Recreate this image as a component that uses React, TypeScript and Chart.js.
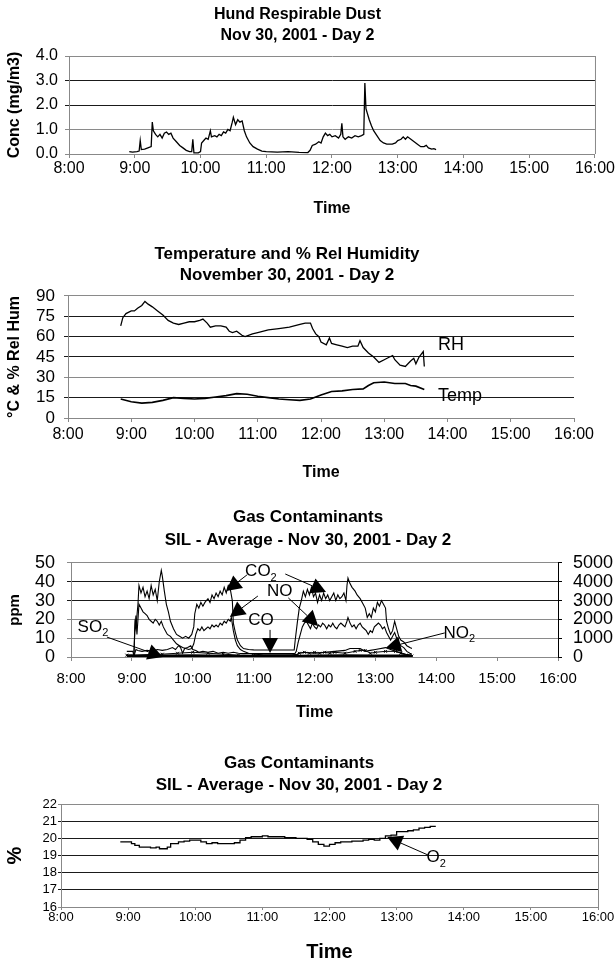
import React, { useEffect, useRef } from 'react';
import { Chart, registerables } from 'chart.js';
Chart.register(...registerables);

const FONT = '"Liberation Sans", Arial, Helvetica, sans-serif';

// ---------- DATA (time "H:MM", value) ----------
const dust: [string, number][] = [
  ['8:55', 0.1], ['8:58', 0.08], ['9:02', 0.1], ['9:04', 0.12], ['9:05', 0.55], ['9:06', 0.18], ['9:09', 0.2], ['9:12', 0.25],
  ['9:15', 0.3], ['9:16', 1.3], ['9:17', 0.95], ['9:19', 0.8], ['9:21', 0.7], ['9:23', 0.8], ['9:25', 0.65], ['9:27', 0.85],
  ['9:29', 0.9], ['9:31', 0.8], ['9:33', 0.85], ['9:35', 0.65], ['9:38', 0.5], ['9:41', 0.35], ['9:44', 0.25], ['9:47', 0.15],
  ['9:50', 0.1], ['9:52', 0.1], ['9:53', 0.6], ['9:54', 0.05], ['9:58', 0.05], ['10:00', 0.1], ['10:01', 0.45], ['10:03', 0.55],
  ['10:05', 0.65], ['10:07', 0.6], ['10:09', 0.95], ['10:10', 0.7], ['10:13', 0.75], ['10:15', 0.7], ['10:17', 0.8], ['10:19', 0.75],
  ['10:21', 0.9], ['10:23', 0.85], ['10:25', 1.0], ['10:27', 0.95], ['10:29', 1.3], ['10:30', 1.5], ['10:32', 1.2], ['10:34', 1.4],
  ['10:36', 1.3], ['10:38', 1.35], ['10:40', 0.95], ['10:42', 0.7], ['10:45', 0.45], ['10:48', 0.3], ['10:52', 0.2], ['10:56', 0.12],
  ['11:00', 0.1], ['11:10', 0.08], ['11:20', 0.1], ['11:30', 0.07], ['11:38', 0.06], ['11:40', 0.15], ['11:42', 0.35], ['11:45', 0.4],
  ['11:48', 0.5], ['11:50', 0.45], ['11:52', 0.7], ['11:54', 0.85], ['11:56', 0.75], ['11:58', 0.8], ['12:00', 0.7], ['12:03', 0.75],
  ['12:06', 0.65], ['12:08', 0.8], ['12:09', 1.25], ['12:10', 0.7], ['12:12', 0.6], ['12:15', 0.7], ['12:18', 0.65], ['12:21', 0.75],
  ['12:24', 0.7], ['12:27', 0.75], ['12:29', 0.8], ['12:30', 2.9], ['12:31', 1.85], ['12:32', 1.7], ['12:34', 1.4], ['12:36', 1.15],
  ['12:38', 0.95], ['12:41', 0.75], ['12:44', 0.55], ['12:47', 0.45], ['12:50', 0.4], ['12:55', 0.4], ['12:58', 0.45], ['13:00', 0.55],
  ['13:03', 0.6], ['13:05', 0.7], ['13:07', 0.6], ['13:09', 0.7], ['13:12', 0.6], ['13:15', 0.5], ['13:18', 0.4], ['13:21', 0.3],
  ['13:24', 0.3], ['13:26', 0.35], ['13:28', 0.25], ['13:31', 0.2], ['13:33', 0.22], ['13:35', 0.18],
];

const relHum: [string, number][] = [
  ['8:50', 68], ['8:52', 74], ['8:55', 77], ['9:00', 79], ['9:03', 79], ['9:06', 81], ['9:10', 83], ['9:13', 86], ['9:16', 84],
  ['9:20', 82], ['9:25', 79], ['9:30', 76], ['9:35', 72], ['9:40', 70], ['9:45', 69], ['9:50', 70], ['9:55', 71], ['10:00', 71],
  ['10:05', 72], ['10:08', 73], ['10:12', 70], ['10:15', 67], ['10:20', 68], ['10:25', 68], ['10:30', 67], ['10:33', 64],
  ['10:36', 63], ['10:40', 64], ['10:45', 61], ['10:48', 60], ['10:55', 62], ['11:00', 63], ['11:10', 65], ['11:20', 66],
  ['11:30', 67], ['11:40', 69], ['11:45', 70], ['11:50', 70], ['11:52', 66], ['11:55', 62], ['11:58', 60], ['12:00', 56],
  ['12:05', 54], ['12:08', 59], ['12:10', 55], ['12:15', 54], ['12:20', 53], ['12:25', 52], ['12:30', 53], ['12:35', 53],
  ['12:37', 57], ['12:40', 52], ['12:45', 48], ['12:50', 45], ['12:55', 41], ['13:00', 43], ['13:05', 45], ['13:08', 46],
  ['13:10', 43], ['13:15', 39], ['13:20', 38], ['13:25', 42], ['13:28', 44], ['13:30', 40], ['13:33', 45], ['13:35', 47],
  ['13:37', 49], ['13:38', 38],
];

const temp: [string, number][] = [
  ['8:50', 14], ['9:00', 12], ['9:10', 11], ['9:20', 11.5], ['9:30', 13], ['9:40', 15], ['9:50', 14.5], ['10:00', 14],
  ['10:10', 14.5], ['10:20', 15.5], ['10:30', 16.5], ['10:40', 18], ['10:50', 17.5], ['11:00', 16], ['11:10', 15], ['11:20', 14],
  ['11:30', 13.5], ['11:40', 13], ['11:50', 14], ['12:00', 17], ['12:10', 19.5], ['12:20', 20], ['12:30', 21], ['12:40', 21.5],
  ['12:45', 24], ['12:50', 26], ['13:00', 26.5], ['13:10', 25.5], ['13:20', 25.5], ['13:25', 24], ['13:30', 23.5], ['13:38', 21],
];

const co2: [string, number][] = [
  ['8:55', 0], ['9:00', 0], ['9:02', 100], ['9:03', 1800], ['9:04', 1500], ['9:05', 2200], ['9:06', 2800], ['9:07', 3800],
  ['9:09', 3400], ['9:11', 3700], ['9:13', 3200], ['9:15', 3500], ['9:17', 3100], ['9:19', 3800], ['9:21', 3300], ['9:23', 3600],
  ['9:25', 3000], ['9:27', 4000], ['9:29', 4600], ['9:30', 4300], ['9:32', 3500], ['9:34', 2800], ['9:36', 2400], ['9:38', 1900],
  ['9:41', 1500], ['9:44', 1200], ['9:47', 1100], ['9:50', 1000], ['9:53', 1100], ['9:56', 1000], ['9:59', 1200], ['10:01', 1600],
  ['10:02', 2300], ['10:04', 2800], ['10:06', 2600], ['10:08', 2900], ['10:10', 2700], ['10:12', 2900], ['10:15', 3100], ['10:17', 2900],
  ['10:19', 3300], ['10:21', 3100], ['10:23', 3400], ['10:25', 3200], ['10:27', 3500], ['10:29', 3300], ['10:31', 3700], ['10:33', 3400],
  ['10:35', 3800], ['10:37', 3600], ['10:39', 3000], ['10:40', 1800], ['10:42', 1300], ['10:44', 900], ['10:47', 600], ['10:50', 450],
  ['10:55', 400], ['11:00', 380], ['11:10', 370], ['11:20', 370], ['11:30', 370], ['11:40', 380], ['11:41', 900], ['11:43', 1800],
  ['11:45', 2600], ['11:47', 3000], ['11:49', 3500], ['11:51', 3200], ['11:53', 3600], ['11:55', 3300], ['11:57', 3700], ['11:59', 3200],
  ['12:01', 3400], ['12:03', 2900], ['12:05', 3300], ['12:07', 3000], ['12:09', 3400], ['12:11', 3100], ['12:13', 3300], ['12:15', 3000],
  ['12:17', 3200], ['12:19', 3400], ['12:21', 3000], ['12:23', 3300], ['12:25', 3100], ['12:27', 3200], ['12:29', 3400], ['12:31', 3000],
  ['12:32', 3800], ['12:33', 4200], ['12:35', 3900], ['12:37', 3700], ['12:40', 3500], ['12:42', 3300], ['12:45', 3100], ['12:48', 2800],
  ['12:50', 2600], ['12:52', 2100], ['12:54', 2300], ['12:56', 2100], ['12:58', 2600], ['13:00', 2400], ['13:02', 2900], ['13:04', 2700],
  ['13:06', 3000], ['13:08', 2800], ['13:10', 2600], ['13:11', 1900], ['13:13', 1500], ['13:15', 1200], ['13:17', 1400], ['13:19', 1900],
  ['13:21', 1500], ['13:23', 1100], ['13:25', 900], ['13:28', 800], ['13:31', 600], ['13:34', 500], ['13:36', 450],
];

const no: [string, number][] = [
  ['9:02', 0.5], ['9:03', 15], ['9:04', 22], ['9:05', 12], ['9:06', 20], ['9:07', 28], ['9:09', 26], ['9:11', 24], ['9:13', 23],
  ['9:15', 22], ['9:17', 20], ['9:19', 19], ['9:21', 18], ['9:23', 20], ['9:25', 19], ['9:27', 17], ['9:29', 19], ['9:31', 16],
  ['9:33', 14], ['9:35', 12], ['9:38', 11], ['9:41', 9], ['9:44', 7], ['9:47', 6], ['9:50', 5], ['9:53', 4.5], ['9:56', 4],
  ['9:59', 4.5], ['10:01', 7], ['10:03', 12], ['10:05', 15], ['10:07', 14], ['10:09', 16], ['10:11', 14], ['10:13', 15], ['10:15', 16],
  ['10:17', 15], ['10:19', 17], ['10:21', 16], ['10:23', 17], ['10:25', 16], ['10:27', 18], ['10:29', 17], ['10:31', 19], ['10:33', 18],
  ['10:35', 20], ['10:37', 19], ['10:38', 21], ['10:40', 14], ['10:42', 9], ['10:44', 6], ['10:47', 4], ['10:50', 3], ['10:55', 2],
  ['11:00', 1.5], ['11:10', 1.2], ['11:20', 1.2], ['11:30', 1.2], ['11:40', 1.2], ['11:42', 3], ['11:44', 8], ['11:46', 12],
  ['11:48', 16], ['11:50', 18], ['11:52', 19], ['11:54', 17], ['11:56', 15], ['11:58', 18], ['12:00', 16], ['12:02', 15], ['12:04', 17],
  ['12:06', 16], ['12:08', 18], ['12:10', 17], ['12:12', 15], ['12:14', 17], ['12:16', 16], ['12:18', 18], ['12:20', 16], ['12:22', 15],
  ['12:24', 17], ['12:26', 18], ['12:28', 17], ['12:30', 16], ['12:32', 19], ['12:33', 21], ['12:35', 18], ['12:37', 16], ['12:39', 17],
  ['12:41', 15], ['12:43', 17], ['12:45', 18], ['12:47', 16], ['12:49', 15], ['12:51', 14], ['12:53', 12], ['12:55', 14], ['12:57', 13],
  ['12:59', 16], ['13:01', 17], ['13:03', 18], ['13:05', 17], ['13:07', 15], ['13:09', 16], ['13:11', 13], ['13:13', 11], ['13:15', 9],
  ['13:17', 11], ['13:19', 13], ['13:21', 10], ['13:23', 8], ['13:25', 6], ['13:28', 5], ['13:31', 3], ['13:34', 2], ['13:36', 1.5],
];

const co: [string, number][] = [
  ['8:55', 3], ['9:01', 3], ['9:02', 0.5], ['9:04', 4], ['9:06', 3.5], ['9:10', 3], ['9:15', 3.5], ['9:20', 3], ['9:25', 4],
  ['9:30', 3.5], ['9:35', 4], ['9:40', 5], ['9:43', 4], ['9:46', 6], ['9:48', 5], ['9:50', 2], ['9:52', 4.5], ['9:55', 5],
  ['9:58', 6], ['10:00', 4], ['10:03', 3.5], ['10:06', 2.5], ['10:10', 3], ['10:15', 2.5], ['10:20', 3], ['10:25', 2],
  ['10:30', 2.5], ['10:35', 2], ['10:40', 2.5], ['10:45', 2], ['10:50', 1.8], ['11:00', 1.8], ['11:20', 1.8], ['11:40', 1.8],
  ['11:42', 1], ['11:45', 2], ['11:50', 2.5], ['12:00', 2], ['12:10', 2.5], ['12:20', 3], ['12:30', 3.5], ['12:35', 4.5],
  ['12:45', 4.5], ['12:50', 3], ['12:55', 3.5], ['13:00', 4], ['13:10', 5], ['13:15', 4], ['13:20', 3], ['13:30', 1.5], ['13:36', 1],
];

const so2: [string, number][] = [
  ['8:55', 0.5], ['9:00', 0.5], ['9:05', 0.3], ['9:30', 0.5], ['10:00', 0.6], ['10:30', 0.4], ['11:00', 0.3], ['11:30', 0.3],
  ['12:00', 0.5], ['12:30', 0.6], ['13:00', 0.5], ['13:30', 0.5], ['13:36', 0.3],
];

const no2: [string, number][] = [
  ['8:55', 1], ['9:30', 1.5], ['9:45', 2], ['10:00', 2.5], ['10:15', 2], ['10:30', 1.5], ['10:45', 1], ['11:00', 0.8], ['11:40', 0.8],
  ['11:45', 2], ['11:50', 2.5], ['11:55', 2], ['12:00', 2.5], ['12:05', 2], ['12:10', 2.5], ['12:15', 2], ['12:20', 2.5], ['12:30', 2],
  ['12:40', 3], ['12:45', 3.5], ['12:50', 3.5], ['12:55', 2], ['13:00', 2.5], ['13:10', 3], ['13:20', 3], ['13:25', 2], ['13:30', 1], ['13:36', 0.5],
];

const o2: [string, number][] = [
  ['8:53', 19.8], ['9:00', 19.8], ['9:03', 19.7], ['9:06', 19.6], ['9:10', 19.5], ['9:15', 19.5], ['9:20', 19.45], ['9:25', 19.5],
  ['9:28', 19.4], ['9:32', 19.4], ['9:35', 19.5], ['9:38', 19.7], ['9:45', 19.8], ['9:50', 19.85], ['9:55', 19.9], ['10:00', 19.9],
  ['10:05', 19.8], ['10:10', 19.7], ['10:15', 19.75], ['10:20', 19.7], ['10:30', 19.7], ['10:35', 19.75], ['10:40', 19.9],
  ['10:45', 20.05], ['10:50', 20.1], ['11:00', 20.15], ['11:05', 20.1], ['11:15', 20.1], ['11:20', 20.05], ['11:30', 20.0],
  ['11:40', 19.95], ['11:45', 19.8], ['11:50', 19.65], ['11:55', 19.55], ['12:00', 19.65], ['12:05', 19.75], ['12:10', 19.8],
  ['12:20', 19.85], ['12:30', 19.9], ['12:35', 19.95], ['12:40', 19.9], ['12:45', 20.0], ['12:50', 20.15], ['12:55', 20.2],
  ['13:00', 20.4], ['13:10', 20.45], ['13:15', 20.5], ['13:20', 20.6], ['13:25', 20.65], ['13:30', 20.7], ['13:35', 20.7],
];

// annotation labels & arrows (data units: hours, left-axis value)
const thLabels = [
  { text: 'RH', sub: '', x: 13.85, y: 53.9, align: 'left' },
  { text: 'Temp', sub: '', x: 13.85, y: 16.2, align: 'left' },
];
const gasLabels = [
  { text: 'CO', sub: '2', x: 11.12, y: 45.5, align: 'center' },
  { text: 'NO', sub: '', x: 11.43, y: 34.8, align: 'center' },
  { text: 'CO', sub: '', x: 11.12, y: 19.7, align: 'center' },
  { text: 'SO', sub: '2', x: 8.36, y: 16, align: 'center' },
  { text: 'NO', sub: '2', x: 14.38, y: 12.8, align: 'center' },
];
const gasArrows = [
  { from: [10.89, 43.6], to: [10.55, 35.1] },
  { from: [11.52, 44.1], to: [12.19, 34.6] },
  { from: [11.07, 32.4], to: [10.61, 21.3] },
  { from: [11.57, 31.4], to: [12.06, 16.5] },
  { from: [11.27, 14.4], to: [11.27, 2.1] },
  { from: [8.59, 10.6], to: [9.51, 0] },
  { from: [14.14, 12.8], to: [13.17, 4.8] },
];
const o2Labels = [{ text: 'O', sub: '2', x: 13.59, y: 18.88, align: 'center' }];
const o2Arrows = [{ from: [13.47, 19.03], to: [12.86, 20.08] }];

// ---------- helpers ----------
const toH = (t: string) => {
  const [h, m] = t.split(':').map(Number);
  return h + m / 60;
};
const pts = (arr: [string, number][]) => arr.map(([t, v]) => ({ x: toH(t), y: v }));

const annotate = {
  id: 'annotate',
  afterDatasetsDraw(chart: any, _a: any, opts: any) {
    const { ctx } = chart;
    const xs = chart.scales.x;
    const ys = chart.scales.y;
    ctx.save();
    ctx.strokeStyle = '#000';
    ctx.fillStyle = '#000';
    ctx.lineWidth = 1;
    for (const a of opts.arrows || []) {
      const x1 = xs.getPixelForValue(a.from[0]);
      const y1 = ys.getPixelForValue(a.from[1]);
      const x2 = xs.getPixelForValue(a.to[0]);
      const y2 = ys.getPixelForValue(a.to[1]);
      const ang = Math.atan2(y2 - y1, x2 - x1);
      const L = 15, W = 8;
      const bx = x2 - L * Math.cos(ang);
      const by = y2 - L * Math.sin(ang);
      ctx.beginPath();
      ctx.moveTo(x1, y1);
      ctx.lineTo(bx, by);
      ctx.stroke();
      ctx.beginPath();
      ctx.moveTo(x2, y2);
      ctx.lineTo(bx + W * Math.sin(ang), by - W * Math.cos(ang));
      ctx.lineTo(bx - W * Math.sin(ang), by + W * Math.cos(ang));
      ctx.closePath();
      ctx.fill();
    }
    const size = opts.fontSize || 17;
    for (const l of opts.labels || []) {
      const x = xs.getPixelForValue(l.x);
      const y = ys.getPixelForValue(l.y);
      ctx.font = `${size}px ${FONT}`;
      const w1 = ctx.measureText(l.text).width;
      ctx.font = `${Math.round(size * 0.65)}px ${FONT}`;
      const w2 = l.sub ? ctx.measureText(l.sub).width : 0;
      const left = l.align === 'left' ? x : x - (w1 + w2) / 2;
      ctx.textBaseline = 'middle';
      ctx.textAlign = 'left';
      ctx.font = `${size}px ${FONT}`;
      ctx.fillText(l.text, left, y);
      if (l.sub) {
        ctx.font = `${Math.round(size * 0.65)}px ${FONT}`;
        ctx.fillText(l.sub, left + w1, y + size * 0.38);
      }
    }
    ctx.restore();
  },
};

const frame = {
  id: 'frame',
  afterDraw(chart: any, _a: any, opts: any) {
    if (!opts.right) return;
    const { ctx, chartArea } = chart;
    ctx.save();
    ctx.strokeStyle = '#888';
    ctx.lineWidth = 1;
    ctx.beginPath();
    ctx.moveTo(chartArea.right + 0.5, chartArea.top);
    ctx.lineTo(chartArea.right + 0.5, chartArea.bottom);
    ctx.stroke();
    ctx.restore();
  },
};

const lineDs = (data: any[], extra: any = {}) => ({
  data,
  borderColor: '#000',
  backgroundColor: '#000',
  borderWidth: 1.3,
  pointRadius: 0,
  tension: 0,
  ...extra,
});

interface Geo {
  title: string[];
  titleSize: number;
  titleLH: number;
  titlePad: [number, number];
  yWidth: number;
  xHeight: number;
  padRight: number;
  yMin: number;
  yMax: number;
  yStep: number;
  yFont: number;
  yTickLen: number;
  yPad: number;
  yTitle: string;
  yTitleSize: number;
  yTitlePad: number;
  yFmt?: (v: number) => string;
  light: number[];
  xFont: number;
  xTickLen: number;
  xPad: number;
  xTitleSize: number;
  xTitlePad: number;
}

function makeOptions(g: Geo, extraScales: any = {}, plugins: any = {}) {
  return {
    responsive: false,
    animation: false,
    devicePixelRatio: 1,
    layout: { padding: { left: 0, right: g.padRight, top: 0, bottom: 0 } },
    plugins: {
      legend: { display: false },
      tooltip: { enabled: false },
      title: {
        display: true,
        text: g.title,
        color: '#000',
        font: { family: FONT, size: g.titleSize, weight: 'bold', lineHeight: g.titleLH },
        padding: { top: g.titlePad[0], bottom: g.titlePad[1] },
      },
      ...plugins,
    },
    scales: {
      x: {
        type: 'linear',
        min: 8,
        max: 16,
        afterFit: (s: any) => {
          s.height = g.xHeight;
        },
        ticks: {
          stepSize: 1,
          autoSkip: false,
          maxRotation: 0,
          color: '#000',
          padding: g.xPad,
          font: { family: FONT, size: g.xFont },
          callback: (v: any) => `${v}:00`,
        },
        grid: { drawOnChartArea: false, drawTicks: true, tickLength: g.xTickLen, color: '#888' },
        border: { color: '#888', width: 1 },
        title: {
          display: true,
          text: 'Time',
          color: '#000',
          font: { family: FONT, size: g.xTitleSize, weight: 'bold', lineHeight: 1.2 },
          padding: { top: 0, bottom: g.xTitlePad },
        },
      },
      y: {
        min: g.yMin,
        max: g.yMax,
        afterFit: (s: any) => {
          s.width = g.yWidth;
        },
        ticks: {
          stepSize: g.yStep,
          autoSkip: false,
          color: '#000',
          padding: g.yPad,
          font: { family: FONT, size: g.yFont },
          callback: (v: any) => (g.yFmt ? g.yFmt(Number(v)) : `${v}`),
        },
        grid: {
          drawTicks: true,
          tickLength: g.yTickLen,
          color: (c: any) => {
            const v = c.tick ? c.tick.value : null;
            if (v === g.yMax || v === g.yMin) return '#8a8a8a';
            return g.light.includes(v) ? '#8a8a8a' : '#1a1a1a';
          },
          lineWidth: 1,
        },
        border: { color: '#888', width: 1 },
        title: {
          display: true,
          text: g.yTitle,
          color: '#000',
          font: { family: FONT, size: g.yTitleSize, weight: 'bold', lineHeight: 1.2 },
          padding: { top: g.yTitlePad, bottom: 0 },
        },
      },
      ...extraScales,
    },
  };
}

function Panel({ top, height, config }: { top: number; height: number; config: any }) {
  const ref = useRef<HTMLCanvasElement>(null);
  useEffect(() => {
    const chart = new Chart(ref.current as HTMLCanvasElement, config);
    return () => chart.destroy();
  }, []);
  return (
    <div style={{ position: 'absolute', left: 0, top, width: 616, height }}>
      <canvas ref={ref} width={616} height={height} style={{ display: 'block', width: 616, height }} />
    </div>
  );
}

// ---------- configs ----------
const dustConfig = {
  type: 'line',
  data: { datasets: [lineDs(pts(dust))] },
  options: makeOptions(
    {
      title: ['Hund Respirable Dust', 'Nov 30, 2001 - Day 2'],
      titleSize: 16, titleLH: 1.3, titlePad: [4.6, 9.8],
      yWidth: 69, xHeight: 70, padRight: 21,
      yMin: 0, yMax: 4, yStep: 1, yFont: 16, yTickLen: 4, yPad: 7,
      yTitle: 'Conc (mg/m3)', yTitleSize: 16, yTitlePad: 5,
      yFmt: (v) => v.toFixed(1), light: [1],
      xFont: 16, xTickLen: 4, xPad: 1, xTitleSize: 16, xTitlePad: 5.4,
    },
    {},
    { frame: { right: true } },
  ),
  plugins: [frame],
};

const thConfig = {
  type: 'line',
  data: { datasets: [lineDs(pts(relHum)), lineDs(pts(temp), { borderWidth: 1.6 })] },
  options: makeOptions(
    {
      title: ['Temperature and % Rel Humidity', 'November 30, 2001 - Day 2'],
      titleSize: 17, titleLH: 1.235, titlePad: [13.5, 10.5],
      yWidth: 68, xHeight: 70, padRight: 42,
      yMin: 0, yMax: 90, yStep: 15, yFont: 17, yTickLen: 4, yPad: 9,
      yTitle: '°C & % Rel Hum', yTitleSize: 16, yTitlePad: 5.4,
      light: [30],
      xFont: 16, xTickLen: 4, xPad: 3.4, xTitleSize: 16, xTitlePad: 5.4,
    },
    {},
    { annotate: { labels: thLabels, arrows: [], fontSize: 18 } },
  ),
  plugins: [annotate],
};

const gasConfig = {
  type: 'line',
  data: {
    datasets: [
      lineDs(pts(co2), { yAxisID: 'y1', borderWidth: 1.1 }),
      lineDs(pts(no), { borderWidth: 1.1 }),
      lineDs(pts(co), { borderWidth: 1.1 }),
      lineDs(pts(no2), { borderWidth: 1, pointRadius: 2, pointStyle: 'crossRot', pointBorderWidth: 1 }),
      lineDs(pts(so2), { borderWidth: 3 }),
    ],
  },
  options: makeOptions(
    {
      title: ['Gas Contaminants', 'SIL - Average - Nov 30, 2001 - Day 2'],
      titleSize: 17, titleLH: 1.35, titlePad: [15.5, 11.5],
      yWidth: 71, xHeight: 70, padRight: 0,
      yMin: 0, yMax: 50, yStep: 10, yFont: 18, yTickLen: 4, yPad: 12,
      yTitle: 'ppm', yTitleSize: 15, yTitlePad: 6,
      light: [10, 20],
      xFont: 15, xTickLen: 4, xPad: 9, xTitleSize: 16, xTitlePad: 4.4,
    },
    {
      y1: {
        position: 'right',
        min: 0,
        max: 5000,
        afterFit: (s: any) => {
          s.width = 58;
        },
        ticks: {
          stepSize: 1000,
          autoSkip: false,
          color: '#000',
          padding: 11,
          font: { family: FONT, size: 18 },
          callback: (v: any) => `${v}`,
        },
        grid: { drawOnChartArea: false, drawTicks: true, tickLength: 4, color: '#000' },
        border: { color: '#000', width: 1 },
      },
    },
    { annotate: { labels: gasLabels, arrows: gasArrows, fontSize: 17 } },
  ),
  plugins: [annotate],
};

const o2Config = {
  type: 'line',
  data: { datasets: [lineDs(pts(o2), { stepped: true })] },
  options: makeOptions(
    {
      title: ['Gas Contaminants', 'SIL - Average - Nov 30, 2001 - Day 2'],
      titleSize: 17, titleLH: 1.3, titlePad: [22, 8],
      yWidth: 61, xHeight: 57, padRight: 18,
      yMin: 16, yMax: 22, yStep: 1, yFont: 13, yTickLen: 3, yPad: 1,
      yTitle: '%', yTitleSize: 20, yTitlePad: 3,
      light: [],
      xFont: 13, xTickLen: 3, xPad: 0, xTitleSize: 20, xTitlePad: 0,
    },
    {},
    { annotate: { labels: o2Labels, arrows: o2Arrows, fontSize: 17 }, frame: { right: true } },
  ),
  plugins: [annotate, frame],
};

export default function App() {
  return (
    <div style={{ position: 'absolute', left: 0, top: 0, width: 616, height: 964, background: '#fff' }}>
      <Panel top={0} height={224} config={dustConfig} />
      <Panel top={230} height={258} config={thConfig} />
      <Panel top={490} height={237} config={gasConfig} />
      <Panel top={730} height={234} config={o2Config} />
    </div>
  );
}
